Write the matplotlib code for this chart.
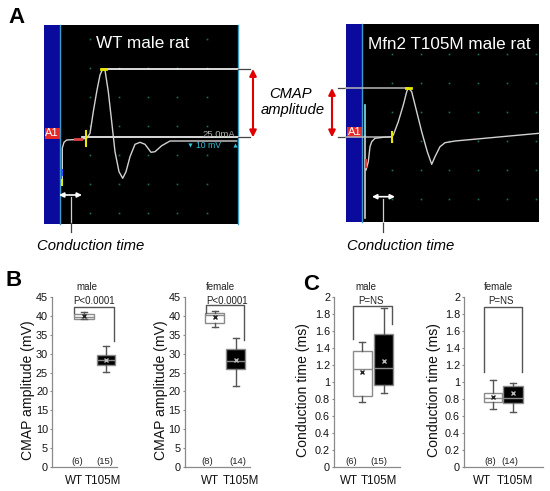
import numpy as np
import matplotlib
matplotlib.use('Agg')
import matplotlib.pyplot as plt
from matplotlib.patches import Rectangle

plt.rcParams['font.family'] = ['Liberation Sans', 'DejaVu Sans']

W, H = 550, 491

# ---- data: box plot summaries ----
groups = ['WT', 'T105M']
cmap_male_n = ['(6)', '(15)']
cmap_female_n = ['(8)', '(14)']
ct_male_n = ['(6)', '(15)']
ct_female_n = ['(8)', '(14)']

# q1, med, q3, whislo, whishi, mean
cmap_male_wt = [39.3, 39.8, 40.5, 39.2, 40.9, 40.0]
cmap_male_mut = [27.0, 28.3, 29.6, 25.1, 32.1, 28.3]
cmap_female_wt = [38.2, 40.3, 40.7, 37.0, 41.3, 39.8]
cmap_female_mut = [25.9, 28.1, 31.2, 21.4, 34.1, 28.2]
ct_male_wt = [0.839, 1.149, 1.365, 0.768, 1.467, 1.114]
ct_male_mut = [0.965, 1.168, 1.565, 0.867, 1.867, 1.247]
ct_female_wt = [0.761, 0.808, 0.874, 0.682, 1.024, 0.820]
ct_female_mut = [0.749, 0.808, 0.953, 0.650, 0.985, 0.867]

# brackets: top, left drop, right drop
cmap_male_bracket = [42.4, 40.8, 33.4]
cmap_female_bracket = [42.9, 40.8, 33.6]
ct_male_bracket = [1.898, 1.51, 1.68]
ct_female_bracket = [1.886, 1.12, 1.12]

cmap_ticks = list(range(0, 46, 5))
ct_ticks = [0, 0.2, 0.4, 0.6, 0.8, 1, 1.2, 1.4, 1.6, 1.8, 2]

# ---- data: oscilloscope traces (pixel coords of the screenshots) ----
wt_trace_x = [62.3, 62.3, 64, 66.7, 80, 86.7, 90, 93.3, 96.7, 100, 102.7, 105, 108.3,
              111.7, 115, 119, 122.7, 126, 130, 135, 140, 145, 151, 155, 161.7, 170, 236.7]
wt_trace_y = [185, 148, 142.3, 140, 139.3, 138.3, 133.3, 111.7, 91.7, 75, 69, 70, 91.7,
              121.7, 151.7, 171.7, 178.3, 171.7, 156.7, 144.3, 142.3, 144.3, 152.3, 151.7,
              145.7, 141, 141]
mut_trace_x = [366, 368.3, 370, 371.7, 375, 383.3, 391.7, 393.3, 398.3, 403.3, 406.7, 408.3,
               411.7, 416.7, 421.7, 427.3, 431.7, 435, 440, 445, 455, 539]
mut_trace_y = [170, 161.7, 146.7, 141.7, 138.3, 137.3, 136.7, 135, 121.7, 105, 91.7, 87.7,
               91.7, 111.7, 131.7, 151.7, 164.3, 156.7, 146.7, 142.7, 141, 133.3]


def rect(l, t, r, b):
    return [l / W, 1 - b / H, (r - l) / W, (b - t) / H]


fig = plt.figure(figsize=(W / 100, H / 100), dpi=100)

# overlay axes in pixel units for panel A and free text
ax_a = fig.add_axes([0, 0, 1, 1])
ax_a.set_xlim(0, W)
ax_a.set_ylim(H, 0)
ax_a.axis('off')

blue = '#0a0a9c'
cyan = '#3a9ac8'
trace_c = '#d2d2d2'
dot_c = '#1f6f60'

# left screen
ax_a.add_patch(Rectangle((44, 25), 16, 199, color=blue, lw=0))
ax_a.add_patch(Rectangle((60, 25), 178, 199, color='black', lw=0))
ax_a.plot([60, 60], [25, 224], color=cyan, lw=1)
ax_a.plot([237.5, 237.5], [25, 224], color=cyan, lw=1)
gx, gy = np.meshgrid([89.5, 118.8, 148, 177.3, 206.6], [39, 68, 97, 126, 155, 184, 213])
ax_a.plot(gx.ravel(), gy.ravel(), 's', ms=1.2, color=dot_c, mew=0)
# right screen
ax_a.add_patch(Rectangle((346, 24), 16, 198, color=blue, lw=0))
ax_a.add_patch(Rectangle((362, 24), 177, 198, color='black', lw=0))
ax_a.plot([362, 362], [24, 222], color=cyan, lw=1)
gx, gy = np.meshgrid([391.7, 420.5, 449.3, 478, 507, 536], [54, 83, 112, 141, 170, 199])
ax_a.plot(gx.ravel(), gy.ravel(), 's', ms=1.2, color=dot_c, mew=0)

# cursor lines
ax_a.plot([101.7, 238], [69, 69], color='white', lw=1.2)
ax_a.plot([238, 250], [69, 69], color='#444444', lw=0.9)
ax_a.plot([82, 238], [137.3, 137.3], color='white', lw=1.2)
ax_a.plot([238, 250], [137.3, 137.3], color='#444444', lw=0.9)
ax_a.plot([338, 346], [87.7, 87.7], color='#444444', lw=0.9)
ax_a.plot([346, 408], [87.7, 87.7], color='#b8b8b8', lw=1.1)
ax_a.plot([338, 346], [137.3, 137.3], color='#444444', lw=0.9)
ax_a.plot([346, 392], [137.3, 137.3], color='#b8b8b8', lw=1.1)

# traces
ax_a.plot(wt_trace_x, wt_trace_y, color=trace_c, lw=1)
ax_a.plot(mut_trace_x, mut_trace_y, color=trace_c, lw=1)
ax_a.plot([365, 365], [136, 218], color=trace_c, lw=1.2)
ax_a.plot([365, 365], [105, 136], color='#7fe0f0', lw=1.2)
ax_a.plot([365.7, 365.7], [160, 167], color='#e04040', lw=1.5)

# markers on traces
ax_a.plot([86, 86], [131, 146], color='#e8e800', lw=1.5)
ax_a.plot([101, 106], [69, 69], color='#e8e800', lw=2)
ax_a.plot([75, 81], [139.3, 139.3], color='#e04040', lw=2)
ax_a.plot([62.3, 62.3], [170, 175], color='#3050ff', lw=1.5)
ax_a.plot([62.3, 62.3], [180, 185], color='#e8e800', lw=1.5)
ax_a.plot([391.7, 391.7], [131.5, 142], color='#e8e800', lw=1.5)
ax_a.plot([406, 411], [87.7, 87.7], color='#e8e800', lw=2)

# A1 labels
for x0, y0 in [(44.5, 128), (347.3, 126.7)]:
    ax_a.add_patch(Rectangle((x0, y0), 15, 10.5, color='#e62828', lw=0))
    ax_a.text(x0 + 7.5, y0 + 5.5, 'A1', color='white', fontsize=8, ha='center', va='center')

# scope readouts
ax_a.text(235, 137, '25.0mA', color='#b0b0b0', fontsize=6.8, ha='right', va='baseline')
ax_a.text(209, 145, '10 mV', color='#30c0d8', fontsize=6.2, ha='center', va='center')
ax_a.plot([190], [145], 'v', ms=3, color='#30c0d8', mew=0)
ax_a.plot([235], [145], '^', ms=3, color='#30c0d8', mew=0)

# titles
ax_a.text(143, 48.3, 'WT male rat', color='white', fontsize=12.3, ha='center', va='baseline')
ax_a.text(449.7, 49, 'Mfn2 T105M male rat', color='white', fontsize=12.3,
          ha='center', va='baseline')

# CMAP amplitude arrows
for xa, y_top in [(253, 69), (332, 88)]:
    ax_a.annotate('', xy=(xa, y_top), xytext=(xa, 137.3),
                  arrowprops=dict(arrowstyle='<|-|>', color='#e00000', lw=1.5,
                                  mutation_scale=10, shrinkA=0, shrinkB=0))
ax_a.text(291, 98.3, 'CMAP', fontsize=10.6, style='italic', ha='center', va='baseline')
ax_a.text(293, 113.5, 'amplitude', fontsize=10.6, style='italic', ha='center', va='baseline')

# conduction time arrows
for x1, x2, yy, xc in [(59, 82, 195, 71), (372, 395, 196.7, 383.3)]:
    ax_a.annotate('', xy=(x1, yy), xytext=(x2, yy),
                  arrowprops=dict(arrowstyle='<|-|>', color='white', lw=1.2,
                                  mutation_scale=7, shrinkA=0, shrinkB=0))
    ax_a.plot([xc, xc], [yy + 2, 223], color='#cfcfcf', lw=0.9)
    ax_a.plot([xc, xc], [223, 232], color='#444444', lw=0.9)
ax_a.text(90.7, 250, 'Conduction time', fontsize=10.7, style='italic', ha='center', va='baseline')
ax_a.text(400.8, 250, 'Conduction time', fontsize=10.7, style='italic', ha='center', va='baseline')

# panel letters
ax_a.text(16.5, 17.5, 'A', fontsize=16, fontweight='bold', ha='center', va='center')
ax_a.text(13.5, 281, 'B', fontsize=16, fontweight='bold', ha='center', va='center')
ax_a.text(311.5, 284, 'C', fontsize=16, fontweight='bold', ha='center', va='center')

# ---- box plots ----
panels = [
    dict(l=52, r=117, wt=cmap_male_wt, mut=cmap_male_mut, br=cmap_male_bracket,
         ymax=45, ticks=cmap_ticks, pos=[83.5, 106], wid=[20, 18], lab=[74, 103],
         n=cmap_male_n, npos=[77, 105], title='male', tx=86.5, p='P<0.0001', px=94,
         ylab='CMAP amplitude (mV)', ylx=28.5),
    dict(l=184.5, r=250, wt=cmap_female_wt, mut=cmap_female_mut, br=cmap_female_bracket,
         ymax=45, ticks=cmap_ticks, pos=[214.7, 235.5], wid=[19, 19], lab=[210, 240.5],
         n=cmap_female_n, npos=[207.5, 237.5], title='female', tx=220.5, p='P<0.0001', px=227.5,
         ylab='CMAP amplitude (mV)', ylx=161.5),
    dict(l=334, r=400, wt=ct_male_wt, mut=ct_male_mut, br=ct_male_bracket,
         ymax=2, ticks=ct_ticks, pos=[362, 383.7], wid=[19, 19], lab=[349, 379],
         n=ct_male_n, npos=[351, 379], title='male', tx=366, p='P=NS', px=371,
         ylab='Conduction time (ms)', ylx=303.5),
    dict(l=464, r=543, wt=ct_female_wt, mut=ct_female_mut, br=ct_female_bracket,
         ymax=2, ticks=ct_ticks, pos=[492.5, 513.3], wid=[18, 20], lab=[482, 515],
         n=ct_female_n, npos=[490, 510], title='female', tx=498.7, p='P=NS', px=501,
         ylab='Conduction time (ms)', ylx=434),
]

edge = '#8a8a8a'
for pn in panels:
    ax = fig.add_axes(rect(pn['l'], 297, pn['r'], 467))
    ax.patch.set_alpha(0)
    stats = []
    for vals in (pn['wt'], pn['mut']):
        q1, med, q3, lo, hi, mean = vals
        stats.append(dict(q1=q1, med=med, q3=q3, whislo=lo, whishi=hi, mean=mean, fliers=[]))
    bp = ax.bxp(stats, positions=pn['pos'], widths=pn['wid'], capwidths=[6, 6],
                patch_artist=True, showmeans=True, manage_ticks=False,
                boxprops=dict(edgecolor=edge, lw=1),
                medianprops=dict(color=edge, lw=1),
                whiskerprops=dict(color=edge, lw=1),
                capprops=dict(color=edge, lw=1),
                meanprops=dict(marker='x', ms=3.5, mew=1))
    bp['boxes'][0].set_facecolor('white')
    bp['boxes'][1].set_facecolor('black')
    bp['means'][0].set_markeredgecolor('#222222')
    bp['means'][1].set_markeredgecolor('#bbbbbb')
    for part in bp['caps'] + bp['whiskers']:
        part.set_color('#555555')

    top, ld, rd = pn['br']
    xl = pn['pos'][0] - pn['wid'][0] / 2 + 0.5
    xr = pn['pos'][1] + pn['wid'][1] / 2 - 1.5
    ax.plot([xl, xl, xr, xr], [ld, top, top, rd], color='#555555', lw=1, clip_on=False)

    ax.set_xlim(pn['l'], pn['r'])
    ax.set_ylim(0, pn['ymax'])
    ax.set_yticks(pn['ticks'])
    ax.set_yticklabels(['%g' % t for t in pn['ticks']])
    ax.set_xticks(pn['lab'])
    ax.set_xticklabels(groups)
    for s in ['top', 'right']:
        ax.spines[s].set_visible(False)
    for s in ['left', 'bottom']:
        ax.spines[s].set_color(edge)
        ax.spines[s].set_linewidth(0.9)
    ax.tick_params(axis='y', length=1.8, width=0.8, color=edge, pad=1,
                   labelsize=7.8, labelcolor='#111111')
    ax.tick_params(axis='x', length=0, pad=5.5, labelsize=8.4, labelcolor='#111111')

    for lbl, xn in zip(pn['n'], pn['npos']):
        ax_a.text(xn, 461, lbl, fontsize=6.8, ha='center', va='center', color='#222222')
    ax_a.text(pn['tx'], 287, pn['title'], fontsize=7, ha='center', va='center', color='#222222')
    ax_a.text(pn['px'], 301, pn['p'], fontsize=7, ha='center', va='center', color='#222222')
    ax_a.text(pn['ylx'], 390, pn['ylab'], fontsize=10.1, rotation=90,
              ha='center', va='center', color='#111111')

fig.savefig('out.png', dpi=100)
